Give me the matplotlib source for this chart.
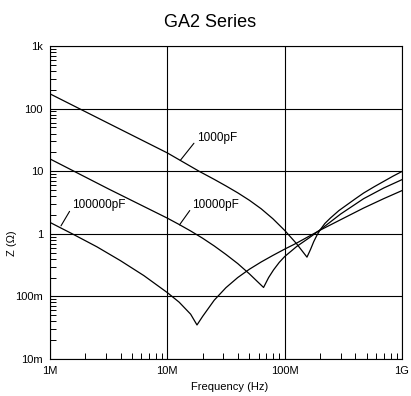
import numpy as np
import matplotlib
matplotlib.use("Agg")
import matplotlib.pyplot as plt
from matplotlib.ticker import FixedLocator, LogLocator, NullFormatter

plt.rcParams['font.family'] = ['Liberation Sans', 'DejaVu Sans']

# частоты в МГц, импеданс в Ом
f_1000 = [1, 3.16, 10, 18.8, 25.1, 31.6, 39.8, 50.1, 63.1, 79.4, 100, 126, 155,
          166, 177, 188, 201, 220, 245, 290, 340, 400, 471, 580, 698, 840, 1000]
z_1000 = [172, 58, 19.6, 9.9, 7.41, 5.82, 4.52, 3.43, 2.51, 1.74, 1.135, 0.70, 0.424,
          0.56, 0.75, 0.94, 1.16, 1.46, 1.78, 2.35, 2.91, 3.62, 4.48, 5.65, 6.87, 8.35, 9.9]

f_10000 = [1, 3.16, 10, 12.6, 15.8, 20, 25.1, 31.6, 39.8, 50.1, 66.1,
           73, 80.4, 90, 100, 127, 160, 201, 300, 471, 700, 1000]
z_10000 = [15.7, 5.2, 1.78, 1.41, 1.11, 0.85, 0.64, 0.468, 0.335, 0.229, 0.139,
           0.20, 0.265, 0.35, 0.433, 0.63, 0.85, 1.16, 2.07, 3.64, 5.4, 7.33]

f_100000 = [1, 1.58, 2.51, 3.98, 6.31, 10, 12.6, 15.8, 17.9,
            20, 25.1, 31.6, 39.8, 50.1, 63.1, 79.4, 100, 126, 200, 300, 471, 700, 1000]
z_100000 = [1.52, 0.98, 0.62, 0.373, 0.215, 0.115, 0.081, 0.052, 0.035,
            0.048, 0.087, 0.138, 0.20, 0.272, 0.355, 0.452, 0.569, 0.708, 1.14, 1.68, 2.58, 3.65, 4.9]

names = ["1000pF", "10000pF", "100000pF"]
# точка на кривой -> начало подписи (МГц, Ом)
leader_from = [(12.9, 14.9), (12.7, 1.39), (1.24, 1.34)]
leader_to = [(17.8, 34.0), (16.4, 2.9), (1.55, 2.9)]

x_ticks = [1e6, 1e7, 1e8, 1e9]
x_labels = ["1M", "10M", "100M", "1G"]
y_ticks = [0.01, 0.1, 1, 10, 100, 1000]
y_labels = ["10m", "100m", "1", "10", "100", "1k"]

fig = plt.figure(figsize=(4.11, 3.96), dpi=100)
ax = fig.add_axes([0.1217, 0.0934, 0.978 - 0.1217, 0.8838 - 0.0934])

for f, z in [(f_1000, z_1000), (f_10000, z_10000), (f_100000, z_100000)]:
    ax.loglog(np.array(f) * 1e6, z, color='black', lw=0.9)

for name, a, b in zip(names, leader_from, leader_to):
    ax.annotate(name, xy=(a[0] * 1e6, a[1]), xytext=(b[0] * 1e6, b[1]),
                ha='left', va='center', fontsize=8.5,
                arrowprops=dict(arrowstyle='-', lw=0.8, color='black',
                                shrinkA=0, shrinkB=0, relpos=(0, 0.35)))

ax.set_xlim(1e6, 1e9)
ax.set_ylim(0.01, 1000)
ax.xaxis.set_major_locator(FixedLocator(x_ticks))
ax.set_xticklabels(x_labels)
ax.yaxis.set_major_locator(FixedLocator(y_ticks))
ax.set_yticklabels(y_labels)
ax.xaxis.set_minor_locator(LogLocator(base=10, subs=np.arange(2, 10)))
ax.yaxis.set_minor_locator(LogLocator(base=10, subs=np.arange(2, 10)))
ax.xaxis.set_minor_formatter(NullFormatter())
ax.yaxis.set_minor_formatter(NullFormatter())
ax.tick_params(which='major', length=0, labelsize=8, pad=5)
ax.tick_params(which='minor', direction='in', length=4, width=0.7)
ax.grid(which='major', color='black', lw=0.8)
for s in ax.spines.values():
    s.set_linewidth(0.8)

ax.set_xlabel("Frequency (Hz)", fontsize=8)
ax.xaxis.set_label_coords(0.511, -0.075)
ax.set_ylabel("Z (Ω)", fontsize=8)
ax.yaxis.set_label_coords(-0.095, 0.37)

fig.text(0.51, 0.944, "GA2 Series", ha='center', va='center', fontsize=13)

fig.savefig("out.png", dpi=100)
